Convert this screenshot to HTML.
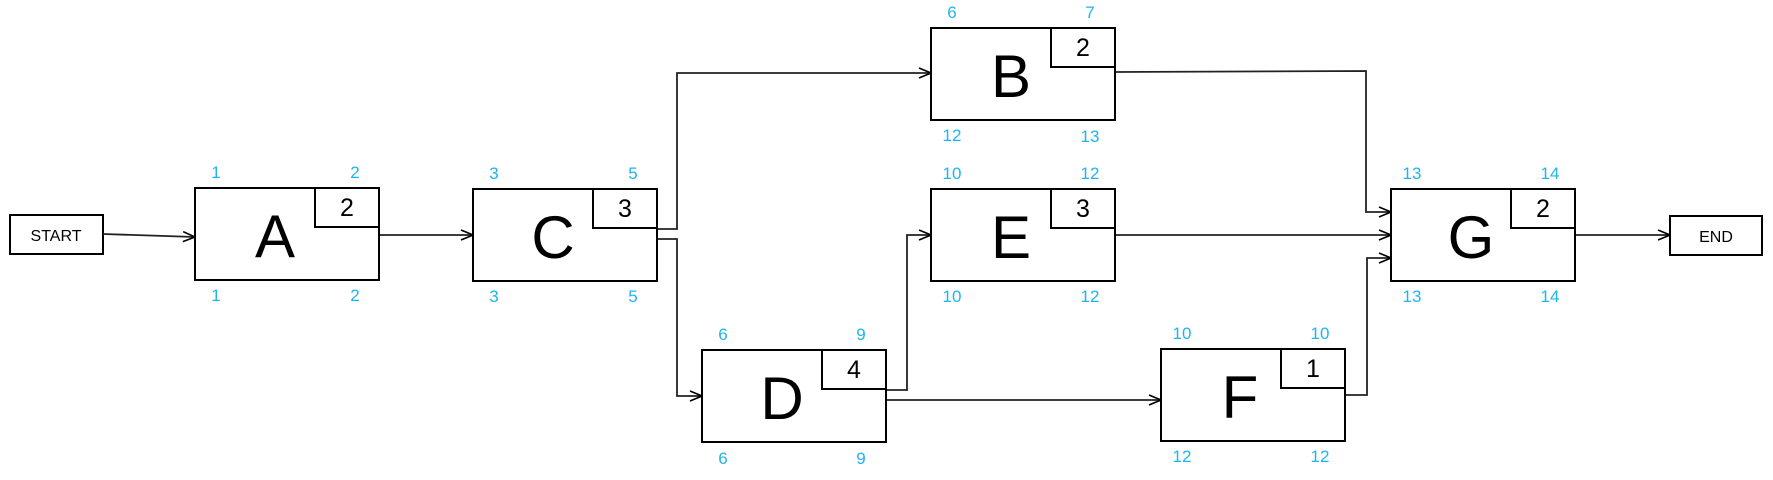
<!DOCTYPE html>
<html><head><style>body{margin:0;background:#fff}svg{display:block}</style></head><body>
<svg width="1773" height="480" viewBox="0 0 1773 480" xmlns="http://www.w3.org/2000/svg" font-family="'Liberation Sans', 'DejaVu Sans', sans-serif">
<defs><marker id="ar" markerWidth="14" markerHeight="12" refX="13" refY="6" orient="auto" markerUnits="userSpaceOnUse"><path d="M1,1 L13,6 L1,11" fill="none" stroke="#000" stroke-width="1.6"/></marker></defs>
<g fill="none" stroke="#000" stroke-width="2">
<rect x="10" y="215" width="93" height="39"/>
<rect x="1670" y="216" width="92" height="39"/>
</g>
<g fill="none" stroke="#222" stroke-width="1.8">
<path d="M103 234 L195 237" marker-end="url(#ar)"/>
<path d="M379 235 L473 235" marker-end="url(#ar)"/>
<path d="M656 229 L677 229 L677 73 L931 73" marker-end="url(#ar)"/>
<path d="M656 239 L677 239 L677 396 L702 396" marker-end="url(#ar)"/>
<path d="M886 390 L907 390 L907 235 L931 235" marker-end="url(#ar)"/>
<path d="M886 400 L1161 400" marker-end="url(#ar)"/>
<path d="M1116 72 L1366 71 L1366 212 L1391 212" marker-end="url(#ar)"/>
<path d="M1116 235 L1391 235" marker-end="url(#ar)"/>
<path d="M1346 395 L1367 395 L1367 258 L1391 258" marker-end="url(#ar)"/>
<path d="M1576 235 L1670 235" marker-end="url(#ar)"/>
</g>
<text x="56" y="241" font-size="16" text-anchor="middle">START</text>
<text x="1716" y="242" font-size="16" text-anchor="middle">END</text>
<g id="nodes">
</g>
<g stroke="#000" stroke-width="2" fill="none">
<rect x="195" y="188" width="184" height="92"/><path d="M315 188 V227 H379"/>
<rect x="473" y="189" width="184" height="92"/><path d="M593 189 V228 H657"/>
<rect x="931" y="28" width="184" height="92"/><path d="M1051 28 V67 H1115"/>
<rect x="931" y="189" width="184" height="92"/><path d="M1051 189 V228 H1115"/>
<rect x="702" y="350" width="184" height="92"/><path d="M822 350 V389 H886"/>
<rect x="1161" y="349" width="184" height="92"/><path d="M1281 349 V388 H1345"/>
<rect x="1391" y="189" width="184" height="92"/><path d="M1511 189 V228 H1575"/>
</g>
<g font-size="60" text-anchor="middle" fill="#000">
<text x="275" y="257">A</text><text x="553" y="258">C</text><text x="1011" y="97">B</text>
<text x="1011" y="258">E</text><text x="782" y="419">D</text><text x="1240" y="418">F</text><text x="1471" y="258">G</text>
</g>
<g font-size="25" text-anchor="middle" fill="#000">
<text x="347" y="216">2</text><text x="625" y="217">3</text><text x="1083" y="56">2</text>
<text x="1083" y="217">3</text><text x="854" y="378">4</text><text x="1313" y="377">1</text><text x="1543" y="217">2</text>
</g>
<g font-size="17" text-anchor="middle" fill="#1fb4f0">
<text x="216" y="178">1</text><text x="355" y="178">2</text><text x="216" y="301">1</text><text x="355" y="301">2</text>
<text x="494" y="179">3</text><text x="633" y="179">5</text><text x="494" y="302">3</text><text x="633" y="302">5</text>
<text x="952" y="18">6</text><text x="1090" y="18">7</text><text x="952" y="141">12</text><text x="1090" y="142">13</text>
<text x="952" y="179">10</text><text x="1090" y="179">12</text><text x="952" y="302">10</text><text x="1090" y="302">12</text>
<text x="723" y="340">6</text><text x="861" y="340">9</text><text x="723" y="464">6</text><text x="861" y="464">9</text>
<text x="1182" y="339">10</text><text x="1320" y="339">10</text><text x="1182" y="462">12</text><text x="1320" y="462">12</text>
<text x="1412" y="179">13</text><text x="1550" y="179">14</text><text x="1412" y="302">13</text><text x="1550" y="302">14</text>
</g>
</svg>
</body></html>
